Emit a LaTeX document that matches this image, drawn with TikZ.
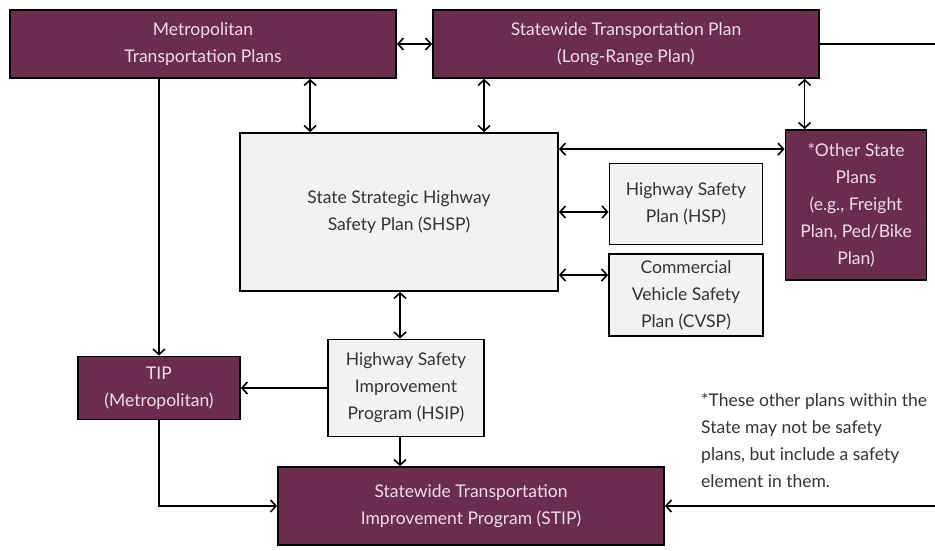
\documentclass[tikz,border=0pt]{standalone}
\usepackage{fontspec}
\setmainfont{Lato}
\usetikzlibrary{arrows.meta}
\definecolor{plum}{HTML}{6B2D4E}
\definecolor{plumtext}{HTML}{EEDDE6}
\definecolor{paleplan}{HTML}{F2F2F2}
\definecolor{darktext}{HTML}{333333}

\begin{document}
\begin{tikzpicture}[x=1pt,y=-1pt,
  every node/.style={font=\fontsize{17.5}{27}\selectfont,align=center,inner sep=0pt},
  purplebox/.style={draw=black,line width=1.8pt,fill=plum,text=plumtext},
  graybox/.style={draw=black,line width=1.8pt,fill=paleplan,text=darktext},
  link/.style={line width=1.6pt,>={Straight Barb[length=5.5pt,width=12pt,line width=1.6pt]}}]
  \useasboundingbox (0,0) rectangle (935,550);
  \node[purplebox,minimum width=386,minimum height=68] (mtp) at (203,44) {Metropolitan\\Transportation Plans};
  \node[purplebox,minimum width=386,minimum height=68] (stp) at (626,44) {Statewide Transportation Plan\\(Long-Range Plan)};
  \node[graybox,minimum width=318,minimum height=158] (shsp) at (399,212) {State Strategic Highway\\Safety Plan (SHSP)};
  \node[purplebox,minimum width=141,minimum height=150] (other) at (856,205) {*Other State\\Plans\\(e.g., Freight\\Plan, Ped/Bike\\Plan)};
  \node[graybox,minimum width=153,minimum height=81] (hsp) at (686,204) {Highway Safety\\Plan (HSP)};
  \node[graybox,minimum width=154,minimum height=82] (cvsp) at (686,295) {Commercial\\Vehicle Safety\\Plan (CVSP)};
  \node[graybox,minimum width=156,minimum height=97] (hsip) at (406,388) {Highway Safety\\Improvement\\Program (HSIP)};
  \node[purplebox,minimum width=162,minimum height=63] (tip) at (159,388) {TIP\\(Metropolitan)};
  \node[purplebox,minimum width=386,minimum height=78] (stip) at (471,506) {Statewide Transportation\\Improvement Program (STIP)};
  \node[anchor=north west,align=left,text=darktext] (note) at (701,393) {*These other plans within the\\State may not be safety\\plans, but include a safety\\element in them.};
  \coordinate (rimtop) at (935,44);
  \coordinate (rimbot) at (935,506);

  \draw[link,<->] (mtp.east) -- (stp.west);
  \draw[link,<->] (shsp.north west) ++(71,0) coordinate (p1) -- (p1 |- mtp.south);
  \draw[link,<->] (shsp.north west) ++(245,0) coordinate (p2) -- (p2 |- stp.south);
  \draw[link,<->] (other.north west) ++(20,0) coordinate (p3) -- (p3 |- stp.south);
  \draw[link,<->] (other.north west) ++(0,20) coordinate (p4) -- (p4 -| shsp.east);
  \draw[link,<->] (shsp.east) -- (shsp.east -| hsp.west);
  \draw[link,<->] (cvsp.west) ++(0,-20) coordinate (p5) -- (p5 -| shsp.east);
  \draw[link,<->] (hsip.north) ++(-6,0) coordinate (p6) -- (p6 |- shsp.south);
  \draw[link,->] (mtp.south -| tip.north) -- (tip.north);
  \draw[link,->] (hsip.west) -- (tip.east);
  \draw[link,->] (hsip.south) ++(-6,0) coordinate (p7) -- (p7 |- stip.north);
  \draw[link,->] (tip.south) |- (stip.west);
  \draw[link] (stp.east) -- (rimtop);
  \draw[link,->] (rimbot) -- (stip.east);
\end{tikzpicture}
\end{document}
